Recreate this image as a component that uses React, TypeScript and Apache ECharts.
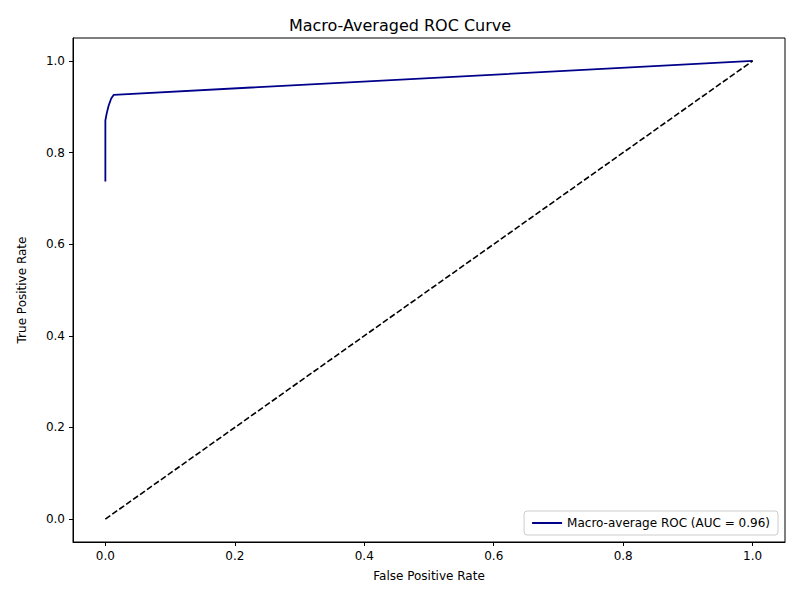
import React, { useEffect, useRef } from "react";
import * as echarts from "echarts";

const rocPoints: [number, number][] = [
  [0, 0.737],
  [0, 0.87],
  [0.002, 0.885],
  [0.005, 0.902],
  [0.009, 0.918],
  [0.013, 0.926],
  [1, 1],
];
const chancePoints: [number, number][] = [
  [0, 0],
  [1, 1],
];
const tickValues = [0, 0.2, 0.4, 0.6, 0.8, 1.0];

const font = "DejaVu Sans";

const App: React.FC = () => {
  const chartRef = useRef<HTMLDivElement>(null);

  useEffect(() => {
    if (!chartRef.current) return;
    const chart = echarts.init(chartRef.current, undefined, { renderer: "svg" });

    const axisCommon = (name: string, gap: number) => ({
      type: "value" as const,
      min: -0.05,
      max: 1.05,
      name,
      nameLocation: "middle" as const,
      nameGap: gap,
      nameTextStyle: { color: "#000", fontSize: 12, fontFamily: font },
      splitLine: { show: false },
      axisLine: { show: true, onZero: false, lineStyle: { color: "#000" } },
      axisTick: { show: true, customValues: tickValues, length: 4, lineStyle: { color: "#000" } },
      axisLabel: {
        customValues: tickValues,
        color: "#000",
        fontSize: 12,
        fontFamily: font,
        formatter: (v: number) => v.toFixed(1),
      },
    });

    chart.setOption({
      animation: false,
      title: {
        text: "Macro-Averaged ROC Curve",
        left: "center",
        top: 4,
        textStyle: { color: "#000", fontSize: 16, fontWeight: "normal", fontFamily: font },
      },
      grid: { left: 58, right: 7, top: 30, bottom: 50, show: true, borderColor: "#000", borderWidth: 1 },
      xAxis: axisCommon("False Positive Rate", 28),
      yAxis: axisCommon("True Positive Rate", 45),
      legend: {
        right: 14,
        bottom: 57,
        orient: "vertical",
        backgroundColor: "#fff",
        borderColor: "#ccc",
        borderWidth: 1,
        borderRadius: 3,
        padding: [6, 8],
        itemWidth: 30,
        itemHeight: 2,
        icon: "rect",
        textStyle: { color: "#000", fontSize: 12, fontFamily: font },
        data: ["Macro-average ROC (AUC = 0.96)"],
      },
      series: [
        {
          name: "Macro-average ROC (AUC = 0.96)",
          type: "line",
          data: rocPoints,
          showSymbol: false,
          lineStyle: { color: "#00008b", width: 1.8 },
          itemStyle: { color: "#00008b" },
        },
        {
          name: "chance",
          type: "line",
          data: chancePoints,
          showSymbol: false,
          lineStyle: { color: "#000", width: 1.6, type: [6, 2.5] },
          itemStyle: { color: "#000" },
        },
      ],
    });

    return () => chart.dispose();
  }, []);

  return <div ref={chartRef} style={{ width: 784, height: 584 }} />;
};

export default App;
